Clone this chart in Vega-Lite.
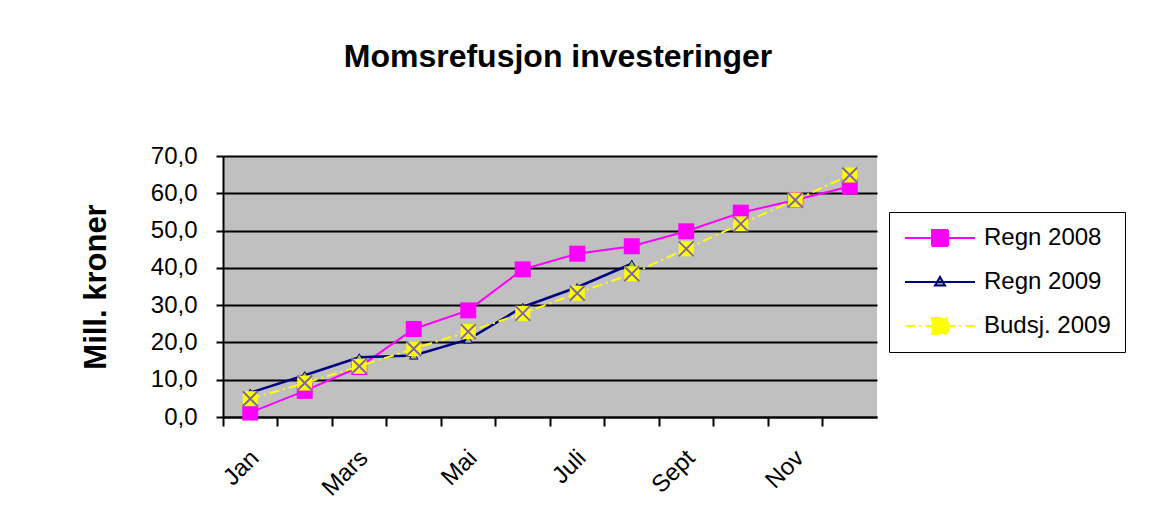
{
  "$schema": "https://vega.github.io/schema/vega-lite/v6.json",
  "width": 654,
  "height": 261,
  "autosize": {"type": "none"},
  "padding": {"left": 223, "top": 156, "right": 276, "bottom": 109},
  "background": "white",
  "title": {
    "text": "Momsrefusjon investeringer",
    "fontSize": 32,
    "fontWeight": "bold",
    "font": "Liberation Sans",
    "color": "#000000",
    "anchor": "middle",
    "offset": 70,
    "dx": 8
  },
  "config": {
    "font": "Liberation Sans",
    "view": {"stroke": null, "fill": "#C0C0C0"},
    "axis": {"labelFont": "Liberation Sans", "titleFont": "Liberation Sans", "labelColor": "#000000", "titleColor": "#000000"},
    "legend": {
      "orient": "none",
      "legendX": 666,
      "legendY": 56,
      "padding": 14,
      "rowPadding": 20,
      "labelOffset": 57,
      "symbolSize": 400,
      "symbolStrokeWidth": 2,
      "labelFont": "Liberation Sans",
      "labelFontSize": 24,
      "labelColor": "#000000",
      "strokeColor": "#000000",
      "fillColor": "#FFFFFF",
      "labelLimit": 400
    }
  },
  "data": {
    "values": [
      {"m": "Jan", "s": "Regn 2008", "v": 1.2},
      {"m": "Feb", "s": "Regn 2008", "v": 7.0},
      {"m": "Mars", "s": "Regn 2008", "v": 13.4},
      {"m": "April", "s": "Regn 2008", "v": 23.6},
      {"m": "Mai", "s": "Regn 2008", "v": 28.6},
      {"m": "Juni", "s": "Regn 2008", "v": 39.6},
      {"m": "Juli", "s": "Regn 2008", "v": 43.8},
      {"m": "Aug", "s": "Regn 2008", "v": 45.8},
      {"m": "Sept", "s": "Regn 2008", "v": 49.8},
      {"m": "Okt", "s": "Regn 2008", "v": 54.8},
      {"m": "Nov", "s": "Regn 2008", "v": 58.2},
      {"m": "Des", "s": "Regn 2008", "v": 61.8},
      {"m": "Jan", "s": "Regn 2009", "v": 6.5},
      {"m": "Feb", "s": "Regn 2009", "v": 11.2},
      {"m": "Mars", "s": "Regn 2009", "v": 16.0},
      {"m": "April", "s": "Regn 2009", "v": 16.5},
      {"m": "Mai", "s": "Regn 2009", "v": 20.8},
      {"m": "Juni", "s": "Regn 2009", "v": 29.5},
      {"m": "Juli", "s": "Regn 2009", "v": 34.8},
      {"m": "Aug", "s": "Regn 2009", "v": 41.1},
      {"m": "Jan", "s": "Budsj. 2009", "v": 4.9},
      {"m": "Feb", "s": "Budsj. 2009", "v": 9.1},
      {"m": "Mars", "s": "Budsj. 2009", "v": 13.6},
      {"m": "April", "s": "Budsj. 2009", "v": 18.3},
      {"m": "Mai", "s": "Budsj. 2009", "v": 22.9},
      {"m": "Juni", "s": "Budsj. 2009", "v": 27.8},
      {"m": "Juli", "s": "Budsj. 2009", "v": 33.2},
      {"m": "Aug", "s": "Budsj. 2009", "v": 38.4},
      {"m": "Sept", "s": "Budsj. 2009", "v": 45.1},
      {"m": "Okt", "s": "Budsj. 2009", "v": 51.8},
      {"m": "Nov", "s": "Budsj. 2009", "v": 58.2},
      {"m": "Des", "s": "Budsj. 2009", "v": 64.9}
    ]
  },
  "resolve": {"axis": {"x": "independent", "y": "shared"}},
  "encoding": {
    "x": {"field": "m", "type": "ordinal", "bandPosition": 0.5,
      "scale": {"type": "band", "domain": ["Jan","Feb","Mars","April","Mai","Juni","Juli","Aug","Sept","Okt","Nov","Des"], "paddingInner": 0, "paddingOuter": 0},
      "axis": null},
    "y": {"field": "v", "type": "quantitative",
      "scale": {"domain": [0, 70], "nice": false, "zero": true},
      "axis": {"orient": "left", "values": [0,10,20,30,40,50,60,70], "labelExpr": "replace(format(datum.value, '.1f'), '.', ',')",
        "grid": true, "gridColor": "#000000", "gridWidth": 2, "gridOpacity": 1,
        "tickSize": 7, "tickWidth": 2, "tickColor": "#000000",
        "domain": true, "domainColor": "#000000", "domainWidth": 2,
        "labelFontSize": 24, "labelPadding": 19,
        "title": "Mill. kroner", "titleFontSize": 31, "titleFontWeight": "bold", "titlePadding": 38}}
  },
  "layer": [
    {
      "transform": [{"filter": "datum.s === 'Regn 2008'"}],
      "mark": {"type": "line", "color": "#FF00FF", "strokeWidth": 2},
      "encoding": {
        "x": {"field": "m", "type": "ordinal", "bandPosition": 0.5,
          "scale": {"type": "band", "domain": ["Jan","Feb","Mars","April","Mai","Juni","Juli","Aug","Sept","Okt","Nov","Des"], "paddingInner": 0, "paddingOuter": 0},
          "axis": {"orient": "bottom", "bandPosition": 0, "labels": false, "ticks": true, "tickSize": 9, "tickWidth": 2, "tickColor": "#000000", "domain": true, "domainColor": "#000000", "domainWidth": 2, "title": null, "grid": false}}
      }
    },
    {
      "transform": [{"filter": "datum.s === 'Regn 2008'"}],
      "mark": {"type": "point", "shape": "square", "size": 256, "filled": true, "color": "#FF00FF", "opacity": 1},
      "encoding": {
        "x": {"field": "m", "type": "ordinal", "bandPosition": 0.5,
          "scale": {"type": "band", "domain": ["Jan","Feb","Mars","April","Mai","Juni","Juli","Aug","Sept","Okt","Nov","Des"], "paddingInner": 0, "paddingOuter": 0},
          "axis": {"orient": "bottom", "bandPosition": 0.5, "ticks": false, "domain": false, "grid": false, "title": null,
            "labelAngle": -45, "labelAlign": "right", "labelBaseline": "middle", "labelFontSize": 24,
            "labelPadding": 37, "labelOffset": 5,
            "labelExpr": "indexof(['Jan','Mars','Mai','Juli','Sept','Nov'], datum.value) >= 0 ? datum.label : ''"}}
      }
    },
    {
      "transform": [{"filter": "datum.s === 'Regn 2009'"}],
      "mark": {"type": "line", "color": "#000080", "strokeWidth": 2.5}
    },
    {
      "transform": [{"filter": "datum.s === 'Regn 2009'"}],
      "mark": {"type": "point", "shape": "triangle-up", "size": 70, "filled": true, "fill": "#9BBB59", "stroke": "#000080", "strokeWidth": 1, "opacity": 1}
    },
    {
      "transform": [{"filter": "datum.s === 'Budsj. 2009'"}],
      "mark": {"type": "line", "color": "#FFFF00", "strokeWidth": 2, "strokeDash": [10, 4, 2, 4]}
    },
    {
      "transform": [{"filter": "datum.s === 'Budsj. 2009'"}],
      "mark": {"type": "point", "shape": "square", "size": 225, "filled": true, "color": "#FFFF00", "opacity": 1}
    },
    {
      "transform": [{"filter": "datum.s === 'Budsj. 2009'"}],
      "mark": {"type": "point", "shape": "M-1,-1L1,1M1,-1L-1,1", "size": 225, "filled": false, "color": "#7F6A9E", "strokeWidth": 2, "opacity": 1}
    },
    {
      "transform": [{"filter": "false"}],
      "mark": {"type": "point", "filled": true, "strokeWidth": 2, "opacity": 1},
      "encoding": {
        "shape": {"field": "s", "type": "nominal",
          "scale": {"domain": ["Regn 2008", "Regn 2009", "Budsj. 2009"],
            "range": ["M-1,0H6M1.7,-0.8H3.3V0.8H1.7Z", "M-1,0H6M2.5,-0.5L3,0.35H2Z", "M-1,0H6M1.7,-0.8H3.3V0.8H1.7Z"]},
          "legend": {"title": null, "encode": {"legend": {"update": {"strokeWidth": {"value": 2}}}}}},
        "fill": {"field": "s", "type": "nominal",
          "scale": {"domain": ["Regn 2008", "Regn 2009", "Budsj. 2009"], "range": ["#FF00FF", "#9BBB59", "#FFFF00"]},
          "legend": {"title": null}},
        "stroke": {"field": "s", "type": "nominal",
          "scale": {"domain": ["Regn 2008", "Regn 2009", "Budsj. 2009"], "range": ["#FF00FF", "#000080", "#FFFF00"]},
          "legend": {"title": null}},
        "strokeDash": {"field": "s", "type": "nominal",
          "scale": {"domain": ["Regn 2008", "Regn 2009", "Budsj. 2009"], "range": [[1, 0], [1, 0], [10, 4, 2, 4]]},
          "legend": {"title": null}}
      }
    }
  ]
}
